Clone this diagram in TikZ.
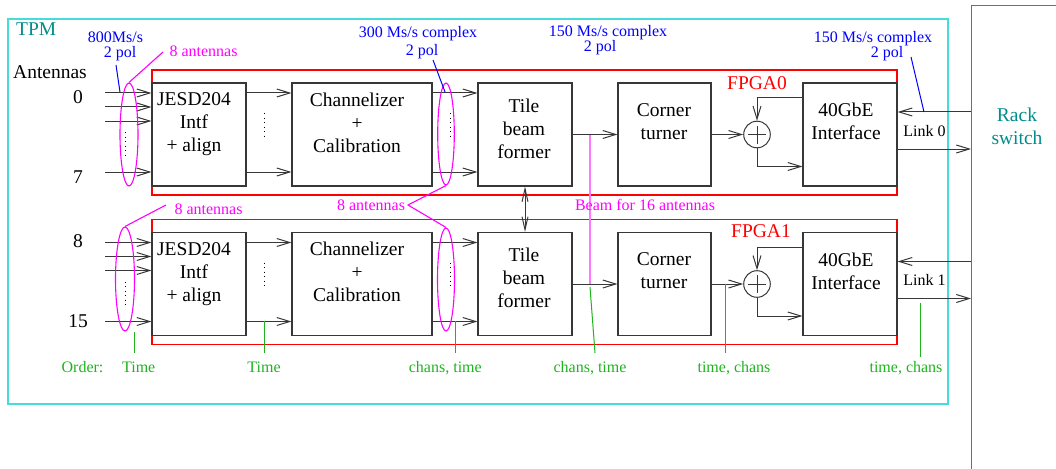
\documentclass[tikz,border=0pt]{standalone}
\usepackage{fontspec}
\setmainfont{Liberation Serif}
\usetikzlibrary{arrows.meta,shapes.geometric}
\definecolor{tpmc}{RGB}{70,220,220}
\definecolor{tealc}{RGB}{0,140,140}
\definecolor{rackc}{RGB}{20,150,150}
\definecolor{grn}{RGB}{30,180,30}
\definecolor{mag}{RGB}{255,0,255}
\definecolor{beamc}{RGB}{255,120,255}
\definecolor{ln}{RGB}{55,55,55}
\tikzset{
  big/.style={font=\fontsize{19.5}{23}\selectfont, align=center, inner sep=0pt},
  small/.style={font=\fontsize{16}{15}\selectfont, align=center, inner sep=0pt},
  blk/.style={draw=ln, line width=1.1pt, minimum height=103pt, inner sep=0pt},
  fpga/.style={draw=red, line width=1.2pt},
  arr/.style={draw=ln, line width=1pt, -{Straight Barb[length=13pt,width=8pt,line width=1pt]}},
  arrtwo/.style={draw=ln, line width=1pt, {Straight Barb[length=13pt,width=6pt,line width=1pt]}-{Straight Barb[length=13pt,width=6pt,line width=1pt]}},
  dotl/.style={draw=black, line width=0.9pt, dash pattern=on 0.9pt off 3.6pt},
  magl/.style={draw=mag, line width=1.1pt},
  bluel/.style={draw=blue, line width=1pt},
  gline/.style={draw=grn, line width=1pt},
  mell/.style={draw=mag, line width=1.1pt, ellipse, inner sep=0pt},
}
\begin{document}
\begin{tikzpicture}[x=1pt,y=-1pt]
\useasboundingbox (0,0) rectangle (1056,468);
% TPM board
\draw[tpmc, line width=1.3pt] (8,19) rectangle (948,404);
\node[big, text=tealc, anchor=base west] (tpm) at (16,36) {TPM};
% Rack switch
\node[draw=rackc, line width=1.3pt, minimum width=160pt, minimum height=520pt, anchor=north west, inner sep=0pt] (rack) at (971,5) {};
\node[big, text=tealc] (racktxt) at (1017,126) {Rack\\switch};

\node[big, anchor=base] (antlab) at (50,79) {Antennas};
\node[big, anchor=base] (n0) at (78,103) {0};
\node[big, anchor=base] (n7) at (78,183) {7};
\node[big, anchor=base] (n8) at (78,247) {8};
\node[big, anchor=base] (n15) at (78,327) {15};

\foreach \i/\dy/\fx/\fy in {0/0/757/89.3, 1/149.5/761/87.8} {
\begin{scope}[yshift=-\dy pt]
  \draw[fpga] (152,70) rectangle (897,195);
  \node[big, text=red, anchor=base] (fl\i) at (\fx,\fy) {FPGA\i};
  % blocks
  \node[blk, minimum width=94pt] (jesd\i) at (199,134.5) {};
  \node[big] (jesdt\i) at (194,124.6) {JESD204\\Intf\\+ align};
  \node[blk, minimum width=140pt] (chan\i) at (362,134.5) {};
  \node[big] (chant\i) at (357,122.8) {Channelizer\\+\\Calibration};
  \node[blk, minimum width=94pt] (tile\i) at (525,134.5) {};
  \node[big] (tilet\i) at (524,128.6) {Tile\\beam\\former};
  \node[blk, minimum width=93pt] (corner\i) at (664.5,134.5) {};
  \node[big] (cornert\i) at (664,121.5) {Corner\\turner};
  \node[blk, minimum width=94pt] (gbe\i) at (850,134.5) {};
  \node[big] (gbet\i) at (846,121.5) {40GbE\\Interface};
  \node[circle, draw=ln, line width=1pt, minimum size=26.6pt, inner sep=0pt] (sum\i) at (757,134.5) {};
  \draw[ln, line width=1pt] ([xshift=-9pt]sum\i.center) -- ([xshift=9pt]sum\i.center);
  \draw[ln, line width=1pt] ([yshift=-9pt]sum\i.center) -- ([yshift=9pt]sum\i.center);
  % antenna inputs
  \foreach \s in {41.5,27.5,13.5,-37.5} {
    \draw[arr] ([shift={(-46pt,\s pt)}]jesd\i.west) -- ([yshift=\s pt]jesd\i.west);
  }
  \draw[dotl] (125,132) -- (125,157);
  % jesd -> channelizer
  \draw[arr] ([yshift=41.5pt]jesd\i.east) -- ([yshift=41.5pt]chan\i.west);
  \draw[arr] ([yshift=-37.5pt]jesd\i.east) -- ([yshift=-37.5pt]chan\i.west);
  \draw[dotl] (264,113) -- (264,138);
  % channelizer -> tile
  \draw[arr] ([yshift=41.5pt]chan\i.east) -- ([yshift=41.5pt]tile\i.west);
  \draw[arr] ([yshift=-37.5pt]chan\i.east) -- ([yshift=-37.5pt]tile\i.west);
  \draw[dotl] (450,113) -- (450,138);
  % tile -> corner -> sum
  \draw[arr] (tile\i.east) -- (corner\i.west);
  \draw[arr] (corner\i.east) -- (sum\i.west);
  \draw[arr] (sum\i.south) |- ([yshift=-32pt]gbe\i.west);
  \draw[arr] ([yshift=36.5pt]gbe\i.west) -| (sum\i.north);
  % links to rack
  \coordinate (ra\i) at ([yshift=22.5pt]gbe\i.east);
  \coordinate (rb\i) at ([yshift=-14.5pt]gbe\i.east);
  \draw[arr] (ra\i -| rack.west) -- (ra\i);
  \draw[arr] (rb\i) -- (rb\i -| rack.west);
  \node[small, anchor=base] (lk\i) at (924.5,136) {Link \i};
\end{scope}
}

% tile beam former link
\draw[arrtwo] (tile0.south) -- (tile1.north);

% beam line (behind its label)
\coordinate (bm) at (590,134.5);
\draw[draw=beamc, line width=1.3pt] (bm) -- (bm |- tile1.east);

% ellipses
\node[mell, minimum width=18pt, minimum height=103pt] (e0) at (129,134.5) {};
\node[mell, minimum width=19pt, minimum height=104pt] (e1) at (125,279) {};
\node[mell, minimum width=16.6pt, minimum height=102pt] (e2) at (446,134) {};
\node[mell, minimum width=17pt, minimum height=103pt] (e3) at (446,279.5) {};

% magenta labels
\node[small, text=mag, anchor=base] (m0) at (203.5,56.5) {8 antennas};
\node[small, text=mag, anchor=base] (m1) at (208.5,214) {8 antennas};
\node[small, text=mag, anchor=base] (m2) at (371,210) {8 antennas};
\node[small, text=mag, anchor=base] (mb) at (645,210) {Beam for 16 antennas};
\coordinate (pm0) at (163,52);
\coordinate (pm1) at (166,205);
\coordinate (pm2) at (408,205);
\draw[magl] (e0.north) -- (pm0);
\draw[magl] (e1.north) -- (pm1);
\draw[magl] (e2.south) -- (pm2) -- (e3.north);

% blue labels
\node[small, text=blue, anchor=base] (b1a) at (115.5,42.5) {800Ms/s};
\node[small, text=blue, anchor=base] (b1b) at (120,57.5) {2 pol};
\node[small, text=blue, anchor=base] (b2a) at (418,37.5) {300 Ms/s complex};
\node[small, text=blue, anchor=base] (b2b) at (422,55.8) {2 pol};
\node[small, text=blue, anchor=base] (b3a) at (608,36.8) {150 Ms/s complex};
\node[small, text=blue, anchor=base] (b3b) at (600,51.5) {2 pol};
\node[small, text=blue, anchor=base] (b4a) at (873,42.5) {150 Ms/s complex};
\node[small, text=blue, anchor=base] (b4b) at (887,57.5) {2 pol};
\coordinate (pb1s) at (116,65); \coordinate (pb1e) at (120,92);
\coordinate (pb2s) at (433,60); \coordinate (pb2e) at (445,92);
\coordinate (pb4s) at (911,57); \coordinate (pb4e) at (924,112);
\draw[bluel] (pb1s) -- (pb1e);
\draw[bluel] (pb2s) -- (pb2e);
\draw[bluel] (pb4s) -- (pb4e);

% green order labels
\node[small, text=grn, anchor=base] (g0) at (82.5,372) {Order:};
\node[small, text=grn, anchor=base] (g1) at (138.7,372) {Time};
\node[small, text=grn, anchor=base] (g2) at (264,372) {Time};
\node[small, text=grn, anchor=base] (g3) at (445.3,372) {chans, time};
\node[small, text=grn, anchor=base] (g4) at (590,372) {chans, time};
\node[small, text=grn, anchor=base] (g5) at (734,372) {time, chans};
\node[small, text=grn, anchor=base] (g6) at (906,372) {time, chans};
\coordinate (q1) at (134,332); \coordinate (q1e) at (134,353);
\coordinate (q2) at (264,321); \coordinate (q2e) at (264,353);
\coordinate (q3) at (455,321); \coordinate (q3e) at (455,353);
\coordinate (q4) at (590,287); \coordinate (q4e) at (595,353);
\coordinate (q5) at (725,284); \coordinate (q5e) at (725,353);
\coordinate (q6) at (920,303); \coordinate (q6e) at (920,357);
\foreach \k in {1,...,6} { \draw[gline] (q\k) -- (q\k e); }
\end{tikzpicture}
\end{document}
